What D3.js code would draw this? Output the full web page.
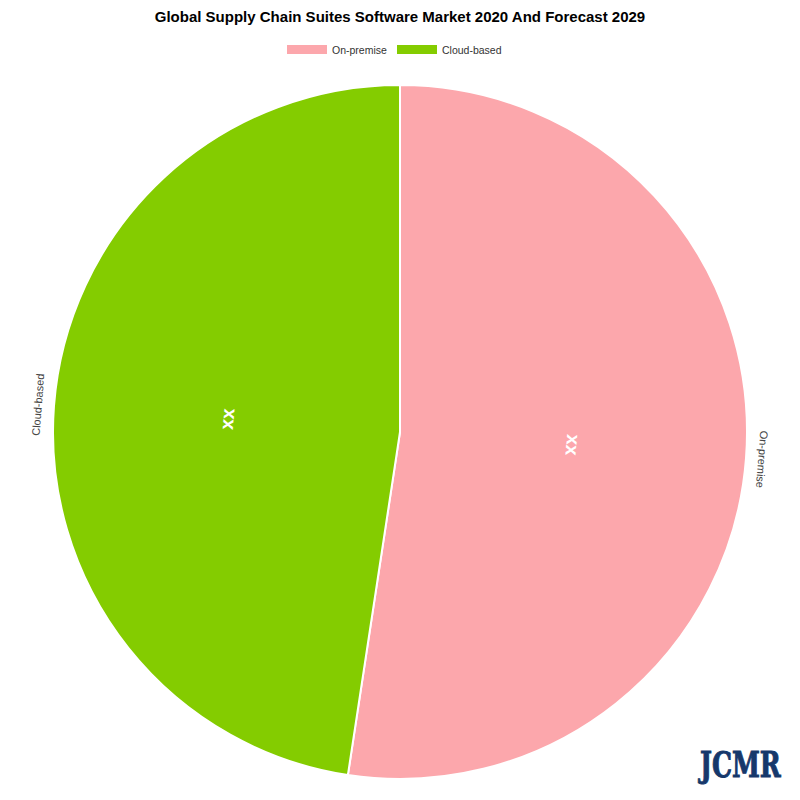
<!DOCTYPE html>
<html lang="en">
<head>
<meta charset="utf-8">
<title>Global Supply Chain Suites Software Market</title>
<script src="https://cdn.jsdelivr.net/npm/d3@7"></script>
<style>
body { margin: 0; background: #fff; }
svg { display: block; font-family: Arial, "Liberation Sans", sans-serif; }
</style>
</head>
<body>
<script>
let w = 800;
let h = 800;

// data
let categories = ["On-premise", "Cloud-based"];
let shares = [52.4, 47.6];
let valueLabels = ["xx", "xx"];
let colors = ["#fca7ac", "#84cc00"];

let cx = 400, cy = 432, r = 347;

let svg = d3.select("body").append("svg")
    .attr("width", w)
    .attr("height", h);

// title
svg.append("text")
    .attr("x", w / 2)
    .attr("y", 22)
    .attr("text-anchor", "middle")
    .attr("font-size", 15)
    .attr("font-weight", "bold")
    .attr("fill", "#000")
    .text("Global Supply Chain Suites Software Market 2020 And Forecast 2029");

// legend
let legendX = [287, 397];
let legend = svg.selectAll("g.legend")
    .data(categories)
    .enter().append("g")
    .attr("class", "legend")
    .attr("transform", function(d, i) { return "translate(" + legendX[i] + ",45)"; });
legend.append("rect")
    .attr("width", 40)
    .attr("height", 9)
    .attr("fill", function(d, i) { return colors[i]; });
legend.append("text")
    .attr("x", 45)
    .attr("y", 8.5)
    .attr("font-size", 10.5)
    .attr("fill", "#333")
    .text(function(d) { return d; });

// pie
let pie = d3.pie().sort(null).value(function(d) { return d; });
let arcs = pie(shares);
let arc = d3.arc().innerRadius(0).outerRadius(r);

let g = svg.append("g").attr("transform", "translate(" + cx + "," + cy + ")");

g.selectAll("path")
    .data(arcs)
    .enter().append("path")
    .attr("d", arc)
    .attr("fill", function(d, i) { return colors[i]; })
    .attr("stroke", "#fff")
    .attr("stroke-width", 2);

function midDeg(d) { return (d.startAngle + d.endAngle) / 2 * 180 / Math.PI; }

// inner value labels
let innerArc = d3.arc().innerRadius(r / 2).outerRadius(r / 2);
g.selectAll("text.val")
    .data(arcs)
    .enter().append("text")
    .attr("class", "val")
    .attr("transform", function(d) {
        let c = innerArc.centroid(d);
        return "translate(" + c[0] + "," + c[1] + ") rotate(" + midDeg(d) + ")";
    })
    .attr("text-anchor", "middle")
    .attr("dy", "0.35em")
    .attr("font-size", 19)
    .attr("font-weight", "bold")
    .attr("fill", "#fff")
    .text(function(d, i) { return valueLabels[i]; });

// outside category labels
let outerArc = d3.arc().innerRadius(r + 16).outerRadius(r + 16);
g.selectAll("text.cat")
    .data(arcs)
    .enter().append("text")
    .attr("class", "cat")
    .attr("transform", function(d) {
        let c = outerArc.centroid(d);
        return "translate(" + c[0] + "," + c[1] + ") rotate(" + midDeg(d) + ")";
    })
    .attr("text-anchor", "middle")
    .attr("dy", "0.35em")
    .attr("font-size", 11)
    .attr("fill", "#444")
    .text(function(d, i) { return categories[i]; });

// logo
svg.append("text")
    .attr("transform", "translate(700,777) scale(0.72,1)")
    .attr("font-family", "'DejaVu Serif', serif")
    .attr("font-weight", "bold")
    .attr("font-size", 35)
    .attr("fill", "#16386b")
    .attr("stroke", "#16386b")
    .attr("stroke-width", 1)
    .text("JCMR");
</script>
</body>
</html>
